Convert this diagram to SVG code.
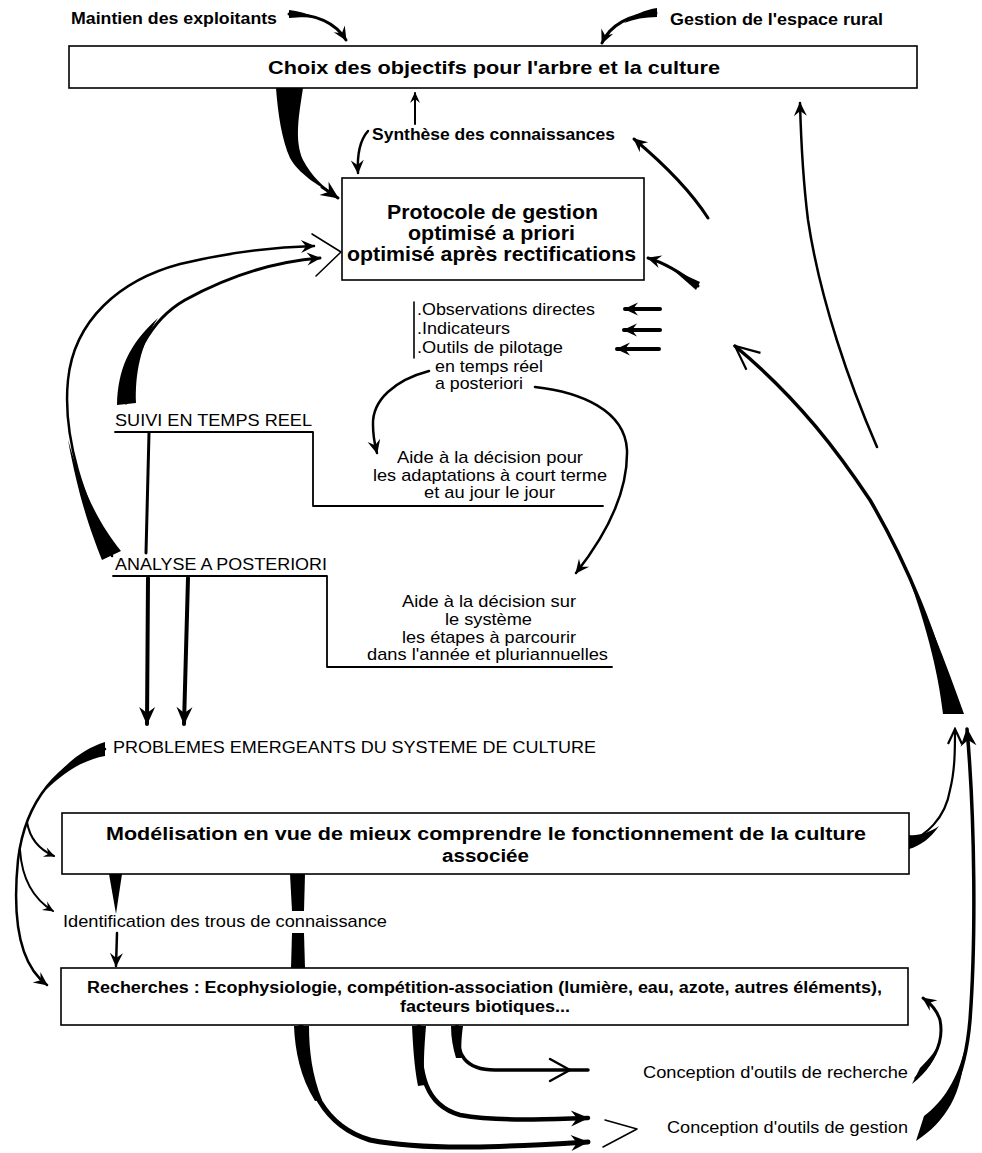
<svg xmlns="http://www.w3.org/2000/svg" width="982" height="1153" viewBox="0 0 982 1153">
<style>
.t{font-family:"Liberation Sans",Arial,Helvetica,sans-serif;fill:#000}
.r{font-size:17px}
.b{font-weight:bold}
.s{font-size:17px}
.box{fill:#fff;stroke:#000;stroke-width:1.6}
.ln{fill:none;stroke:#000;stroke-linecap:round;stroke-linejoin:round}
.w{fill:#000;stroke:none}
</style>
<defs>
<marker id="ah" viewBox="-15 -8 17 16" refX="0" refY="0" markerWidth="17" markerHeight="16" markerUnits="userSpaceOnUse" orient="auto"><path d="M1,0 L-13,-6.5 L-8,0 L-13,6.5 Z" fill="#000"/></marker>
<marker id="ahs" viewBox="-12 -6 14 12" refX="0" refY="0" markerWidth="14" markerHeight="12" markerUnits="userSpaceOnUse" orient="auto"><path d="M1,0 L-10,-5 L-6,0 L-10,5 Z" fill="#000"/></marker>
<marker id="ahl" viewBox="-19 -10 21 20" refX="0" refY="0" markerWidth="21" markerHeight="20" markerUnits="userSpaceOnUse" orient="auto"><path d="M1,0 L-17,-8 L-11,0 L-17,8 Z" fill="#000"/></marker>
<marker id="ao" viewBox="-26 -14 28 28" refX="0" refY="0" markerWidth="28" markerHeight="28" markerUnits="userSpaceOnUse" orient="auto"><path d="M-24,-11 L0,0 L-24,11" fill="none" stroke="#000" stroke-width="2.2"/></marker>
<marker id="aos" viewBox="-16 -9 18 18" refX="0" refY="0" markerWidth="18" markerHeight="18" markerUnits="userSpaceOnUse" orient="auto"><path d="M-15,-7 L0,0 L-15,7" fill="none" stroke="#000" stroke-width="2.2"/></marker>
</defs>
<rect width="982" height="1153" fill="#fff"/>

<g id="connectors">
  <!-- top labels to Choix -->
  <path class="w" d="M289,10 L289,18 C300,17 308,17 316,18 C306,13 298,11 289,10 Z"/>
  <path class="ln" d="M289,14 C315,14 335,22 346,40" stroke-width="3" marker-end="url(#ah)"/>
  <path class="w" d="M657,8 L657,17 C645,17 634,19 624,23 C634,14 645,10 657,8 Z"/>
  <path class="ln" d="M656,13 C630,14 610,25 602,43" stroke-width="3" marker-end="url(#ah)"/>
  <!-- Choix -> Protocole big wedge -->
  <path class="w" d="M276,88 L303,88 C299,115 294,140 303,160 C312,177 324,187 334,194 C318,186 298,173 290,158 C282,140 278,115 276,88 Z"/>
  <path class="ln" d="M322,187 L338,198" stroke-width="3" marker-end="url(#ahl)"/>
  <!-- Synthese -->
  <path class="ln" d="M415,124 L415,93" stroke-width="2" marker-end="url(#ahs)"/>
  <path class="ln" d="M368,131 C360,140 357,155 358,173" stroke-width="2.5" marker-end="url(#ah)"/>
  <path class="ln" d="M708,218 C690,190 665,165 634,139" stroke-width="3" marker-end="url(#ah)"/>
  <!-- right arrow to Protocole -->
  <path class="w" d="M700,282 L696,290 L672,269 Z"/>
  <path class="ln" d="M698,286 C680,272 665,263 648,258" stroke-width="3" marker-end="url(#ah)"/>
  <!-- long thin arrow up to Choix -->
  <path class="ln" d="M877,447 C850,385 820,300 808,220 C803,180 801,140 800,103" stroke-width="2.5" marker-end="url(#ah)"/>
  <!-- three small arrows -->
  <path class="ln" d="M660,309 L625,309" stroke-width="4" marker-end="url(#ah)"/>
  <path class="ln" d="M660,330 L624,330" stroke-width="4" marker-end="url(#ah)"/>
  <path class="ln" d="M659,349 L617,349" stroke-width="4" marker-end="url(#ah)"/>
  <!-- list curves -->
  <line class="ln" x1="414" y1="302" x2="414" y2="358" stroke-width="1.6"/>
  <path class="ln" d="M429,371 C395,380 372,400 373,425 C373,438 375,445 377,453" stroke-width="2.5" marker-end="url(#ah)"/>
  <path class="ln" d="M535,387 C580,392 625,410 627,450 C628,490 610,530 576,573" stroke-width="2.5" marker-end="url(#ah)"/>
  <!-- left curves to Protocole -->
  <path class="ln" d="M112,556 C85,500 62,440 68,380 C74,320 120,280 180,264 C230,252 280,247 314,246" stroke-width="2.5" marker-end="url(#ah)"/>
  <path class="w" d="M102,560 C92,535 79,500 68,440 C84,495 100,525 121,551 Z"/>
  <path class="ln" d="M126,403 C130,360 150,320 185,300 C225,278 270,262 320,258" stroke-width="3" marker-end="url(#ah)"/>
  <path class="w" d="M117,405 C118,370 128,345 158,318 C140,345 135,375 136,403 Z"/>
  <path class="ln" d="M312,234 L341,252 L316,276" stroke-width="1.5"/>
  <!-- SUIVI / ANALYSE lines -->
  <polyline class="ln" points="115,432 313,432 313,506 603,506" stroke-width="1.8"/>
  <polyline class="ln" points="113,576 327,576 327,667 612,667" stroke-width="1.8"/>
  <path class="ln" d="M149,433 L146,553" stroke-width="3"/>
  <path class="ln" d="M148,578 L147,724" stroke-width="4" marker-end="url(#ahl)"/>
  <path class="ln" d="M188,578 L184,724" stroke-width="4" marker-end="url(#ahl)"/>
  <!-- big right curve -->
  <path class="ln" d="M954,712 C940,640 905,560 870,500 C840,455 800,400 735,346" stroke-width="3.5" marker-end="url(#ao)"/>
  <path class="w" d="M943,714 C938,670 925,620 903,562 C925,610 945,660 964,714 Z"/>
  <!-- PROBLEMES curves -->
  <path class="w" d="M105,742 L105,756 C82,760 62,774 46,790 C60,768 80,750 105,742 Z"/>
  <path class="ln" d="M105,749 C60,760 25,800 18,860 C12,920 20,965 47,985" stroke-width="2.5" marker-end="url(#ah)"/>
  <path class="ln" d="M27,822 C30,840 40,850 54,856" stroke-width="2" marker-end="url(#ahs)"/>
  <path class="ln" d="M20,850 C22,880 35,900 53,911" stroke-width="2" marker-end="url(#ahs)"/>
  <!-- Modelisation outputs -->
  <path class="w" d="M109,874 L122,874 L116,914 Z"/>
  <path class="ln" d="M117,933 L116,966" stroke-width="2.5" marker-end="url(#ah)"/>
  <path class="w" d="M290,874 L305,874 L304,911 L292,911 Z"/>
  <path class="w" d="M292,933 L304,933 L305,968 L291,968 Z"/>
  <path class="w" d="M909,835 L909,849 C920,846 931,838 939,826 C929,833 918,836 909,835 Z"/>
  <path class="ln" d="M909,842 C925,835 945,820 950,790 C955,770 955,750 955,729" stroke-width="2.2" marker-end="url(#aos)"/>
  <!-- Recherches outputs -->
  <path class="w" d="M294,1026 L309,1026 C309,1050 312,1075 322,1100 L315,1101 C300,1077 295,1050 294,1026 Z"/>
  <path class="ln" d="M301,1026 C303,1080 320,1125 370,1140 C430,1152 520,1146 588,1142" stroke-width="5" marker-end="url(#ahl)"/>
  <path class="w" d="M412,1026 L426,1026 C424,1050 423,1070 425,1085 L418,1086 C414,1065 413,1045 412,1026 Z"/>
  <path class="ln" d="M419,1026 C419,1075 425,1105 460,1115 C500,1122 550,1119 588,1118" stroke-width="4.5" marker-end="url(#ahl)"/>
  <path class="w" d="M451,1026 L463,1026 C461,1040 461,1050 462,1058 L456,1058 C453,1048 451,1038 451,1026 Z"/>
  <path class="ln" d="M457,1026 C456,1055 465,1070 495,1070 L588,1070" stroke-width="3.5"/>
  <path class="ln" d="M550,1059 L570,1070 L550,1081" stroke-width="2.5"/>
  <path class="ln" d="M605,1120 L637,1129 L603,1147" stroke-width="1.5"/>
  <path class="w" d="M912,1084 L920,1068 C930,1058 937,1050 941,1038 C938,1058 926,1073 912,1084 Z"/>
  <path class="ln" d="M916,1078 C930,1065 945,1045 940,1020 C937,1010 930,1003 923,998" stroke-width="3" marker-end="url(#ah)"/>
  <path class="w" d="M916,1141 L924,1116 C940,1104 955,1085 964,1052 C963,1092 946,1122 916,1141 Z"/>
  <path class="ln" d="M922,1132 C945,1115 965,1080 970,1020 C976,940 975,820 967,729" stroke-width="3.5" marker-end="url(#ahl)"/>
</g>

<g id="n-maintien"><text class="t b s" x="71" y="24" textLength="206" lengthAdjust="spacingAndGlyphs">Maintien des exploitants</text></g>
<g id="n-gestion-rural"><text class="t b s" x="670" y="25" textLength="213" lengthAdjust="spacingAndGlyphs">Gestion de l'espace rural</text></g>
<g id="n-choix">
  <rect class="box" x="69" y="46" width="848" height="42"/>
  <text class="t b" x="268" y="74" font-size="19" textLength="452" lengthAdjust="spacingAndGlyphs">Choix des objectifs pour l'arbre et la culture</text>
</g>
<g id="n-synthese"><text class="t b s" x="372" y="140" textLength="243" lengthAdjust="spacingAndGlyphs">Synthèse des connaissances</text></g>
<g id="n-protocole">
  <rect class="box" x="342" y="178" width="302" height="102"/>
  <text class="t b" x="387" y="219" font-size="20" textLength="211" lengthAdjust="spacingAndGlyphs">Protocole de gestion</text>
  <text class="t b" x="408" y="240" font-size="20" textLength="167" lengthAdjust="spacingAndGlyphs">optimisé a priori</text>
  <text class="t b" x="347" y="261" font-size="20" textLength="289" lengthAdjust="spacingAndGlyphs">optimisé après rectifications</text>
</g>
<g id="n-outils-suivi">
  <text class="t r" x="417" y="315" textLength="178" lengthAdjust="spacingAndGlyphs">.Observations directes</text>
  <text class="t r" x="417" y="334" textLength="93" lengthAdjust="spacingAndGlyphs">.Indicateurs</text>
  <text class="t r" x="417" y="353" textLength="146" lengthAdjust="spacingAndGlyphs">.Outils de pilotage</text>
  <text class="t r" x="435" y="372" textLength="108" lengthAdjust="spacingAndGlyphs">en temps réel</text>
  <text class="t r" x="435" y="389" textLength="88" lengthAdjust="spacingAndGlyphs">a posteriori</text>
</g>
<g id="n-suivi"><text class="t r" x="115" y="426" textLength="197" lengthAdjust="spacingAndGlyphs">SUIVI EN TEMPS REEL</text></g>
<g id="n-aide-court">
  <text class="t r" x="397" y="463" textLength="186" lengthAdjust="spacingAndGlyphs">Aide à la décision pour</text>
  <text class="t r" x="373" y="481" textLength="234" lengthAdjust="spacingAndGlyphs">les adaptations à court terme</text>
  <text class="t r" x="424" y="498" textLength="131" lengthAdjust="spacingAndGlyphs">et au jour le jour</text>
</g>
<g id="n-analyse"><text class="t r" x="115" y="570" textLength="212" lengthAdjust="spacingAndGlyphs">ANALYSE A POSTERIORI</text></g>
<g id="n-aide-systeme">
  <text class="t r" x="402" y="607" textLength="174" lengthAdjust="spacingAndGlyphs">Aide à la décision sur</text>
  <text class="t r" x="445" y="625" textLength="87" lengthAdjust="spacingAndGlyphs">le système</text>
  <text class="t r" x="402" y="643" textLength="174" lengthAdjust="spacingAndGlyphs">les étapes à parcourir</text>
  <text class="t r" x="367" y="660" textLength="241" lengthAdjust="spacingAndGlyphs">dans l'année et pluriannuelles</text>
</g>
<g id="n-problemes"><text class="t r" x="113" y="753" textLength="483" lengthAdjust="spacingAndGlyphs">PROBLEMES EMERGEANTS DU SYSTEME DE CULTURE</text></g>
<g id="n-modelisation">
  <rect class="box" x="62" y="813" width="847" height="61"/>
  <text class="t b" x="106" y="840" font-size="18" textLength="760" lengthAdjust="spacingAndGlyphs">Modélisation en vue de mieux comprendre le fonctionnement de la culture</text>
  <text class="t b" x="442" y="862" font-size="18" textLength="87" lengthAdjust="spacingAndGlyphs">associée</text>
</g>
<g id="n-identification"><text class="t r" x="63" y="927" textLength="324" lengthAdjust="spacingAndGlyphs">Identification des trous de connaissance</text></g>
<g id="n-recherches">
  <rect class="box" x="61" y="968" width="847" height="57"/>
  <text class="t b" x="87" y="993" font-size="16" textLength="795" lengthAdjust="spacingAndGlyphs">Recherches : Ecophysiologie, compétition-association (lumière, eau, azote, autres éléments),</text>
  <text class="t b" x="400" y="1012" font-size="16" textLength="170" lengthAdjust="spacingAndGlyphs">facteurs biotiques...</text>
</g>
<g id="n-outils-recherche"><text class="t r" x="643" y="1078" textLength="265" lengthAdjust="spacingAndGlyphs">Conception d'outils de recherche</text></g>
<g id="n-outils-gestion"><text class="t r" x="667" y="1133" textLength="241" lengthAdjust="spacingAndGlyphs">Conception d'outils de gestion</text></g>
</svg>
